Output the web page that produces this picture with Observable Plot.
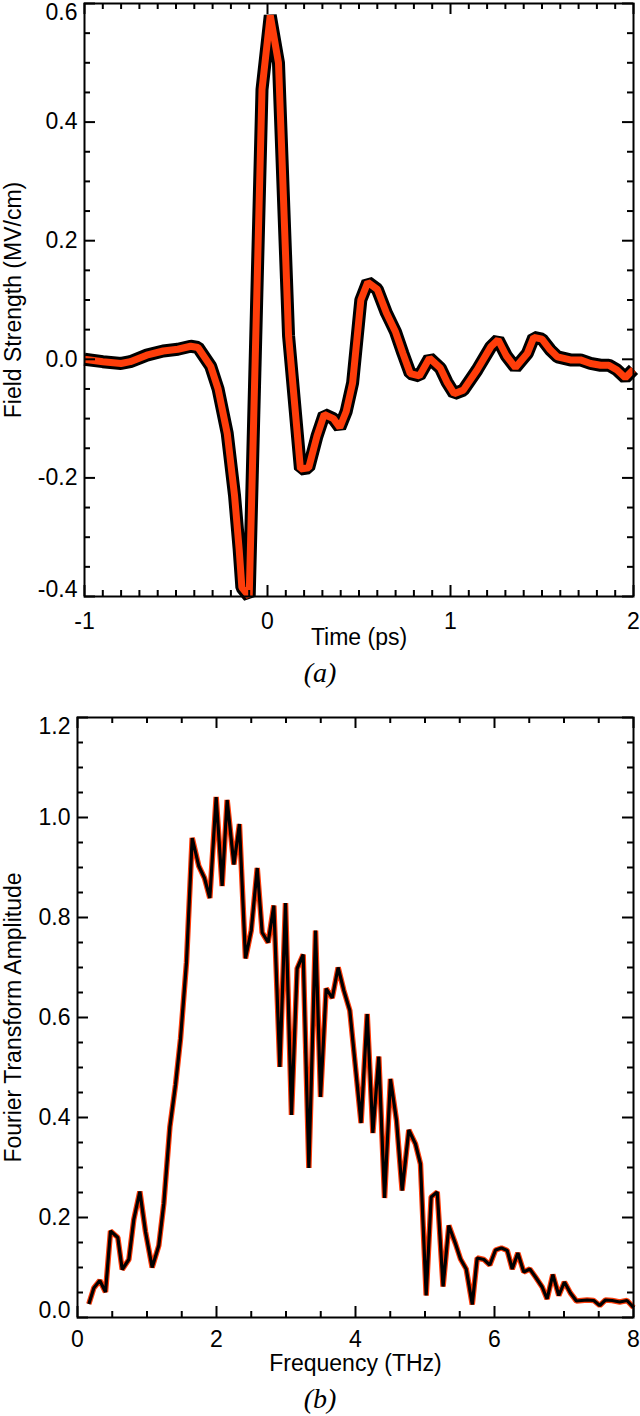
<!DOCTYPE html>
<html>
<head>
<meta charset="utf-8">
<script src="https://cdn.jsdelivr.net/npm/d3@7"></script>
<script src="https://cdn.jsdelivr.net/npm/@observablehq/plot@0.6"></script>
<style>
  body { margin: 0; background: #fff; }
  #wrap { position: relative; width: 640px; height: 1416px; overflow: hidden; background: #fff; }
  .panel { position: absolute; left: 0; }
  .cap { position: absolute; left: 0; width: 640px; text-align: center;
         font-family: "Liberation Serif", "Times New Roman", serif; font-style: italic;
         font-size: 28px; line-height: 28px; color: #000; }
</style>
</head>
<body>
<div id="wrap">
  <div id="panelA" class="panel" style="top:0px"></div>
  <div class="cap" style="top:659px">(a)</div>
  <div id="panelB" class="panel" style="top:690px"></div>
  <div class="cap" style="top:1385px">(b)</div>
</div>
<script>
// ---------- Panel (a): time-domain field ----------
const timePs = [-1.00, -0.90, -0.80, -0.75, -0.66, -0.57, -0.49, -0.42, -0.38, -0.31, -0.27, -0.22, -0.18, -0.155, -0.14, -0.10,
  -0.03, 0.015, 0.06, 0.115, 0.18, 0.225, 0.27, 0.31, 0.36, 0.395, 0.43, 0.465, 0.51, 0.548, 0.60, 0.65, 0.70, 0.74, 0.78, 0.83,
  0.885, 0.945, 0.98, 1.02, 1.07, 1.145, 1.22, 1.26, 1.305, 1.355, 1.42, 1.455, 1.50, 1.545, 1.585, 1.655, 1.71, 1.765, 1.82,
  1.865, 1.91, 1.955, 2.00];
const fieldMVcm = [0.000, -0.004, -0.007, -0.004, 0.007, 0.014, 0.017, 0.022, 0.020, -0.012, -0.050, -0.125, -0.230, -0.320, -0.385, -0.400,
  0.455, 0.580, 0.500, 0.040, -0.185, -0.183, -0.130, -0.093, -0.100, -0.115, -0.088, -0.040, 0.100, 0.130, 0.118, 0.078, 0.046, 0.010, -0.024, -0.028,
  0.002, -0.015, -0.038, -0.058, -0.052, -0.018, 0.021, 0.033, 0.006, -0.014, 0.010, 0.037, 0.034, 0.016, 0.004, -0.001, -0.001, -0.007, -0.010,
  -0.010, -0.018, -0.031, -0.017];
const aXTicks = [-1, 0, 1, 2];
const aXTickLabels = ["-1", "0", "1", "2"];
const aYTicks = [-0.4, -0.2, 0.0, 0.2, 0.4, 0.6];
const aYTickLabels = ["-0.4", "-0.2", "0.0", "0.2", "0.4", "0.6"];

// ---------- Panel (b): Fourier amplitude ----------
const freqTHz = [0.163, 0.235, 0.321, 0.403, 0.475, 0.580, 0.643, 0.739, 0.81, 0.897, 0.978, 1.074, 1.17, 1.242, 1.329, 1.41, 1.482, 1.568,
  1.65, 1.745, 1.827, 1.904, 1.995, 2.081, 2.153, 2.25, 2.33, 2.417, 2.5, 2.586, 2.657, 2.743, 2.825, 2.911, 2.993, 3.079, 3.16, 3.247,
  3.329, 3.425, 3.497, 3.578, 3.665, 3.75, 3.832, 3.918, 4.08, 4.168, 4.25, 4.335, 4.418, 4.503, 4.59, 4.671, 4.767, 4.863, 4.935,
  5.017, 5.089, 5.176, 5.26, 5.343, 5.44, 5.511, 5.593, 5.68, 5.751, 5.847, 5.932, 6.015, 6.1, 6.183, 6.255, 6.336, 6.421, 6.508,
  6.59, 6.686, 6.757, 6.839, 6.925, 7.006, 7.092, 7.179, 7.332, 7.428, 7.514, 7.596, 7.692, 7.802, 7.907, 8.0];
const ftAmplitude = [0.027, 0.059, 0.074, 0.051, 0.173, 0.160, 0.096, 0.116, 0.196, 0.252, 0.172, 0.100, 0.144, 0.228, 0.381, 0.465, 0.557, 0.710,
  0.959, 0.903, 0.879, 0.839, 1.041, 0.863, 1.035, 0.906, 0.987, 0.718, 0.774, 0.899, 0.770, 0.750, 0.824, 0.501, 0.829, 0.405, 0.698, 0.726,
  0.299, 0.774, 0.441, 0.658, 0.639, 0.700, 0.654, 0.614, 0.389, 0.607, 0.369, 0.522, 0.239, 0.477, 0.394, 0.254, 0.375, 0.347, 0.307,
  0.044, 0.241, 0.251, 0.062, 0.184, 0.147, 0.117, 0.097, 0.026, 0.119, 0.116, 0.105, 0.135, 0.139, 0.134, 0.097, 0.129, 0.091, 0.097,
  0.081, 0.061, 0.037, 0.086, 0.044, 0.071, 0.049, 0.033, 0.035, 0.034, 0.024, 0.035, 0.034, 0.031, 0.034, 0.020];
const bXTicks = [0, 2, 4, 6, 8];
const bXTickLabels = ["0", "2", "4", "6", "8"];
const bYTicks = [0.0, 0.2, 0.4, 0.6, 0.8, 1.0, 1.2];
const bYTickLabels = ["0.0", "0.2", "0.4", "0.6", "0.8", "1.0", "1.2"];

const RED = "#ff3d0a";
const FONT = "'Liberation Sans', Arial, Helvetica, sans-serif";
const FS = 23;

function panel(o) {
  const ph = o.height - o.mt - o.mb;
  const pw = o.width - o.ml - o.mr;
  const MAJ = 11, MIN = 6, TW = 2;
  const xMinor = d3.range(o.xDomain[0], o.xDomain[1] + 1e-9, o.xMinorStep).filter(v => !o.xTicks.some(t => Math.abs(t - v) < 1e-9));
  const yMinor = d3.range(o.yDomain[0], o.yDomain[1] + 1e-9, o.yMinorStep).filter(v => !o.yTicks.some(t => Math.abs(t - v) < 1e-9));
  const xl = new Map(o.xTicks.map((t, i) => [t, o.xLabels[i]]));
  const yl = new Map(o.yTicks.map((t, i) => [t, o.yLabels[i]]));
  const tk = {stroke: "#000", strokeWidth: TW};
  const marks = [
    ...o.lines,
    // bottom & top x ticks (inward)
    Plot.tickX(o.xTicks, {x: d => d, insetTop: ph - MAJ, ...tk}),
    Plot.tickX(o.xTicks, {x: d => d, insetBottom: ph - MAJ, ...tk}),
    Plot.tickX(xMinor, {x: d => d, insetTop: ph - MIN, ...tk}),
    Plot.tickX(xMinor, {x: d => d, insetBottom: ph - MIN, ...tk}),
    // left & right y ticks (inward)
    Plot.tickY(o.yTicks, {y: d => d, insetRight: pw - MAJ, ...tk}),
    Plot.tickY(o.yTicks, {y: d => d, insetLeft: pw - MAJ, ...tk}),
    Plot.tickY(yMinor, {y: d => d, insetRight: pw - MIN, ...tk}),
    Plot.tickY(yMinor, {y: d => d, insetLeft: pw - MIN, ...tk}),
    Plot.frame({stroke: "#000", strokeWidth: 2}),
    // tick labels
    Plot.text(o.xTicks, {x: d => d, frameAnchor: "bottom", dy: o.xPad, lineAnchor: "top", textAnchor: "middle", text: d => xl.get(d), fontSize: FS, fill: "#000"}),
    Plot.text(o.yTicks.slice(1, -1), {y: d => d, frameAnchor: "left", dx: -7, textAnchor: "end", text: d => yl.get(d), fontSize: FS, fill: "#000"}),
    Plot.text([o.yTicks[0]], {y: d => d, frameAnchor: "left", dx: -7, textAnchor: "end", lineAnchor: "bottom", text: d => yl.get(d), fontSize: FS, fill: "#000"}),
    Plot.text([o.yTicks[o.yTicks.length - 1]], {y: d => d, frameAnchor: "left", dx: -7, textAnchor: "end", lineAnchor: "top", text: d => yl.get(d), fontSize: FS, fill: "#000"}),
    // axis titles
    Plot.text([o.xTitle], {frameAnchor: "bottom", dy: o.xTitleDy, textAnchor: "middle", text: d => d, fontSize: FS, fill: "#000"}),
    Plot.text([o.yTitle], {frameAnchor: "left", dx: o.yTitleDx, rotate: -90, textAnchor: "middle", text: d => d, fontSize: FS, fill: "#000"})
  ];
  return Plot.plot({
    width: o.width, height: o.height,
    marginTop: o.mt, marginBottom: o.mb, marginLeft: o.ml, marginRight: o.mr,
    x: {domain: o.xDomain, axis: null},
    y: {domain: o.yDomain, axis: null},
    style: {fontFamily: FONT, fontSize: FS + "px", background: "#fff", overflow: "visible"},
    marks
  });
}

const dataA = timePs.map((t, i) => ({t, v: fieldMVcm[i]}));
const dataB = freqTHz.map((f, i) => ({f, a: ftAmplitude[i]}));

const plotA = panel({
  width: 640, height: 660, mt: 3, mb: 64, ml: 84, mr: 7,
  xDomain: [-1, 2], yDomain: [-0.4, 0.6], xMinorStep: 0.1, yMinorStep: 0.05,
  xTicks: aXTicks, xLabels: aXTickLabels, yTicks: aYTicks, yLabels: aYTickLabels,
  xPad: 16, xTitle: "Time (ps)", xTitleDy: 48, yTitle: "Field Strength (MV/cm)", yTitleDx: -71,
  lines: [
    Plot.line(dataA, {x: "t", y: "v", stroke: "#000", strokeWidth: 13, strokeLinejoin: "miter", strokeLinecap: "butt"}),
    Plot.line(dataA, {x: "t", y: "v", stroke: RED, strokeWidth: 7, strokeLinejoin: "miter", strokeLinecap: "butt"})
  ]
});
document.getElementById("panelA").appendChild(plotA);

const plotB = panel({
  width: 640, height: 700, mt: 27, mb: 73, ml: 77, mr: 7,
  xDomain: [0, 8], yDomain: [0, 1.2], xMinorStep: 0.5, yMinorStep: 0.05,
  xTicks: bXTicks, xLabels: bXTickLabels, yTicks: bYTicks, yLabels: bYTickLabels,
  xPad: 13, xTitle: "Frequency (THz)", xTitleDy: 53, yTitle: "Fourier Transform Amplitude", yTitleDx: -64,
  lines: [
    Plot.line(dataB, {x: "f", y: "a", stroke: RED, strokeWidth: 5.5, strokeLinejoin: "miter", strokeLinecap: "butt"}),
    Plot.line(dataB, {x: "f", y: "a", stroke: "#000", strokeWidth: 3.2, strokeLinejoin: "miter", strokeLinecap: "butt"})
  ]
});
document.getElementById("panelB").appendChild(plotB);
</script>
</body>
</html>
